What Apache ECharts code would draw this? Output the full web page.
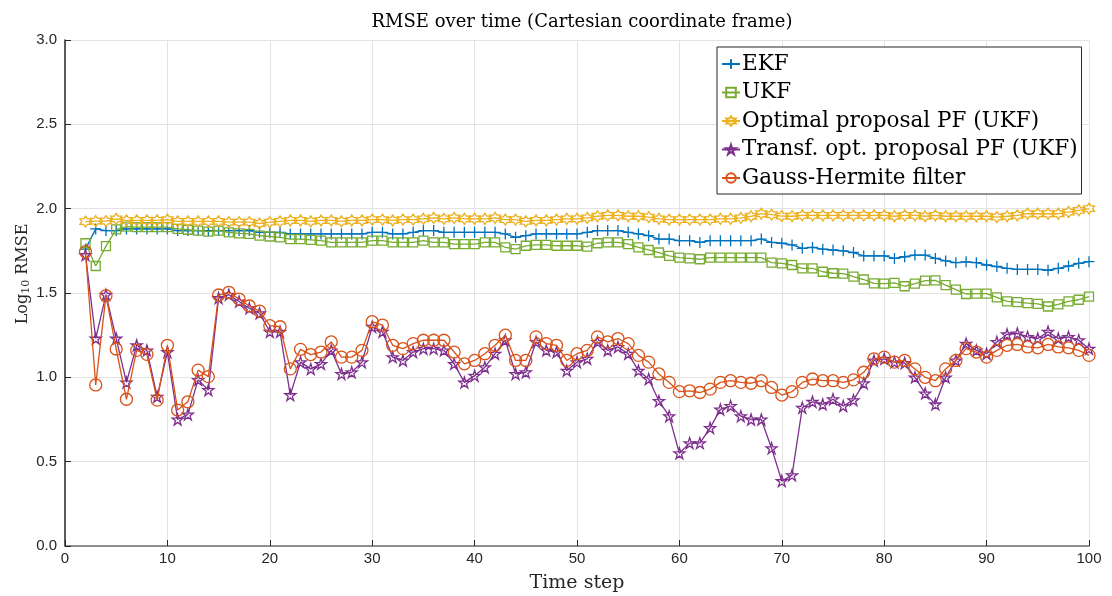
<!DOCTYPE html>
<html>
<head>
<meta charset="utf-8">
<script src="https://cdn.jsdelivr.net/npm/echarts@6/dist/echarts.min.js"></script>
<style>html,body{margin:0;padding:0;background:#fff}#c{width:1112px;height:596px}</style>
</head>
<body>
<div id="c"></div>
<script>
const timeSteps = [2,3,4,5,6,7,8,9,10,11,12,13,14,15,16,17,18,19,20,21,22,23,24,25,26,27,28,29,30,31,32,33,34,35,36,37,38,39,40,41,42,43,44,45,46,47,48,49,50,51,52,53,54,55,56,57,58,59,60,61,62,63,64,65,66,67,68,69,70,71,72,73,74,75,76,77,78,79,80,81,82,83,84,85,86,87,88,89,90,91,92,93,94,95,96,97,98,99,100];

const ekf = [1.76,1.88,1.87,1.87,1.88,1.88,1.88,1.88,1.88,1.87,1.87,1.87,1.87,1.87,1.87,1.87,1.87,1.86,1.86,1.86,1.85,1.85,1.85,1.85,1.85,1.85,1.85,1.85,1.86,1.86,1.85,1.85,1.86,1.87,1.87,1.86,1.86,1.86,1.86,1.86,1.86,1.85,1.83,1.84,1.85,1.85,1.85,1.85,1.85,1.86,1.87,1.87,1.87,1.86,1.85,1.84,1.82,1.82,1.81,1.81,1.80,1.81,1.81,1.81,1.81,1.81,1.82,1.80,1.795,1.785,1.765,1.77,1.76,1.755,1.75,1.74,1.72,1.72,1.72,1.705,1.715,1.725,1.725,1.705,1.69,1.68,1.685,1.68,1.666,1.657,1.646,1.64,1.64,1.64,1.635,1.646,1.66,1.676,1.686];

const ukf = [1.795,1.66,1.778,1.877,1.893,1.89,1.89,1.89,1.89,1.88,1.875,1.87,1.864,1.87,1.86,1.854,1.85,1.84,1.835,1.83,1.82,1.82,1.815,1.81,1.80,1.80,1.80,1.80,1.81,1.81,1.80,1.80,1.80,1.81,1.80,1.80,1.79,1.79,1.79,1.80,1.80,1.77,1.76,1.78,1.785,1.785,1.78,1.78,1.78,1.775,1.795,1.80,1.80,1.79,1.77,1.755,1.74,1.72,1.71,1.705,1.70,1.71,1.71,1.71,1.71,1.71,1.71,1.68,1.676,1.666,1.646,1.646,1.626,1.617,1.615,1.597,1.58,1.557,1.555,1.56,1.54,1.555,1.573,1.575,1.547,1.52,1.494,1.496,1.496,1.474,1.45,1.446,1.44,1.435,1.42,1.432,1.45,1.46,1.478];

const optPF = [1.923,1.926,1.926,1.94,1.93,1.93,1.93,1.93,1.935,1.925,1.925,1.925,1.925,1.925,1.92,1.92,1.92,1.912,1.92,1.925,1.93,1.93,1.925,1.93,1.93,1.925,1.93,1.93,1.935,1.935,1.93,1.935,1.935,1.94,1.945,1.94,1.945,1.94,1.94,1.94,1.945,1.935,1.935,1.925,1.93,1.93,1.935,1.94,1.94,1.945,1.955,1.96,1.96,1.955,1.955,1.95,1.94,1.935,1.935,1.935,1.935,1.935,1.94,1.94,1.945,1.955,1.97,1.965,1.956,1.955,1.96,1.96,1.96,1.96,1.96,1.96,1.96,1.96,1.96,1.955,1.96,1.96,1.955,1.96,1.955,1.955,1.955,1.955,1.955,1.95,1.955,1.96,1.97,1.97,1.97,1.97,1.98,1.99,2.00];

const transfPF = [1.725,1.23,1.49,1.23,0.97,1.19,1.16,0.885,1.15,0.75,0.78,0.985,0.925,1.47,1.49,1.45,1.41,1.38,1.27,1.27,0.895,1.09,1.05,1.08,1.16,1.02,1.03,1.09,1.30,1.27,1.12,1.10,1.15,1.17,1.17,1.16,1.08,0.97,1.01,1.06,1.14,1.22,1.02,1.03,1.21,1.16,1.15,1.04,1.09,1.11,1.21,1.16,1.18,1.14,1.04,0.99,0.86,0.77,0.55,0.61,0.61,0.70,0.81,0.83,0.77,0.75,0.75,0.58,0.385,0.42,0.82,0.855,0.84,0.87,0.83,0.865,0.965,1.10,1.11,1.09,1.085,1.00,0.905,0.84,1.00,1.10,1.20,1.16,1.14,1.21,1.255,1.26,1.24,1.23,1.27,1.23,1.24,1.22,1.17];

const gaussHermite = [1.745,0.955,1.484,1.168,0.87,1.16,1.136,0.865,1.19,0.806,0.855,1.043,1.004,1.488,1.504,1.464,1.423,1.393,1.306,1.30,1.05,1.166,1.135,1.15,1.21,1.12,1.12,1.16,1.33,1.31,1.19,1.17,1.20,1.22,1.22,1.22,1.15,1.08,1.10,1.14,1.19,1.25,1.10,1.10,1.24,1.20,1.19,1.10,1.14,1.16,1.24,1.21,1.23,1.20,1.13,1.09,1.02,0.97,0.915,0.92,0.91,0.93,0.97,0.98,0.97,0.965,0.98,0.94,0.895,0.915,0.97,0.99,0.98,0.98,0.97,0.985,1.03,1.11,1.12,1.09,1.10,1.05,1.00,0.98,1.05,1.10,1.17,1.15,1.12,1.16,1.19,1.195,1.18,1.175,1.195,1.18,1.175,1.16,1.13];

const seriesNames = ['EKF','UKF','Optimal proposal PF (UKF)','Transf. opt. proposal PF (UKF)','Gauss-Hermite filter'];
const xTicks = [0,10,20,30,40,50,60,70,80,90,100];
const yTicks = [0.0,0.5,1.0,1.5,2.0,2.5,3.0];

const colors = ['#0072BD','#77AC30','#EDB120','#7E2F8E','#D95319'];
const plusPath = 'path://M0,50 L100,50 M50,0 L50,100';
const hexPath = 'path://M50,0 L64.45,24.97 L93.3,25 L78.9,50 L93.3,75 L64.45,75.03 L50,100 L35.55,75.03 L6.7,75 L21.1,50 L6.7,25 L35.55,24.97 Z';
const pentPath = 'path://M50,0 L61.2,34.5 L97.6,34.5 L68.2,55.9 L79.4,90.5 L50,69.1 L20.6,90.5 L31.8,55.9 L2.4,34.5 L38.8,34.5 Z';
const symbols = [plusPath,'rect',hexPath,pentPath,'circle'];
const sizes = [11,9,11,11,12];
const allData = [ekf,ukf,optPF,transfPF,gaussHermite];

const serifFont = 'DejaVu Serif';

const series = allData.map((arr,i)=>({
  name: seriesNames[i],
  type: 'line',
  data: timeSteps.map((t,j)=>[t,arr[j]]),
  symbol: symbols[i],
  symbolSize: sizes[i],
  showAllSymbol: true,
  lineStyle: {color: colors[i], width: 1.3},
  itemStyle: {color: 'rgba(255,255,255,0)', borderColor: colors[i], borderWidth: 1.3},
  emphasis: {disabled: true},
  z: 2 + i
}));

const chart = echarts.init(document.getElementById('c'), null, {renderer:'canvas'});
chart.setOption({
  animation: false,
  backgroundColor: '#fff',
  title: {
    text: 'RMSE over time (Cartesian coordinate frame)',
    left: 577, top: 8, textAlign: 'center',
    textStyle: {fontFamily: serifFont, fontWeight: 'normal', fontSize: 18, color: '#000'}
  },
  grid: {left: 65, right: 23, top: 40, bottom: 50, containLabel: false, outerBoundsMode: 'none'},
  legend: {
    orient: 'vertical', left: 717, top: 47,
    itemWidth: 18, itemHeight: 12, itemGap: 6.5,
    padding: [6, 4, 5, 4],
    backgroundColor: '#fff', borderColor: '#262626', borderWidth: 1,
    textStyle: {fontFamily: serifFont, fontSize: 21.5, color: '#000', padding: [0,0,0,-3]},
    data: seriesNames
  },
  graphic: [{
    type: 'text', x: 23, y: 274, rotation: Math.PI/2,
    style: {
      text: '{a|Log}{s|10}{a| RMSE}', align: 'center', verticalAlign: 'middle',
      rich: {
        a: {fontFamily: serifFont, fontSize: 16, fill: '#262626'},
        s: {fontFamily: serifFont, fontSize: 11, fill: '#262626', padding: [7,0,0,0]}
      }
    }
  }],
  xAxis: {
    type: 'value', min: 0, max: 100, interval: 10,
    name: 'Time step', nameLocation: 'middle', nameGap: 28,
    nameTextStyle: {fontFamily: serifFont, fontSize: 19, color: '#262626'},
    axisLine: {show: true, lineStyle: {color: '#6e6e6e', width: 1.5}},
    axisTick: {show: true, inside: true, length: 6, lineStyle: {color: '#262626'}},
    axisLabel: {fontFamily: 'Liberation Sans', fontSize: 15, color: '#262626', margin: 5,
      formatter: v => xTicks.includes(v) ? String(v) : ''},
    splitLine: {show: true, lineStyle: {color: '#e3e3e3', width: 1}}
  },
  yAxis: {
    type: 'value', min: 0, max: 3, interval: 0.5,
    axisLine: {show: true, lineStyle: {color: '#262626', width: 1.5}},
    axisTick: {show: true, inside: true, length: 6, lineStyle: {color: '#262626'}},
    axisLabel: {fontFamily: 'Liberation Sans', fontSize: 15, color: '#262626', margin: 8,
      formatter: v => yTicks.some(t=>Math.abs(t-v)<1e-9) ? v.toFixed(1) : ''},
    splitLine: {show: true, lineStyle: {color: '#e3e3e3', width: 1}}
  },
  series: series
});
</script>
</body>
</html>
